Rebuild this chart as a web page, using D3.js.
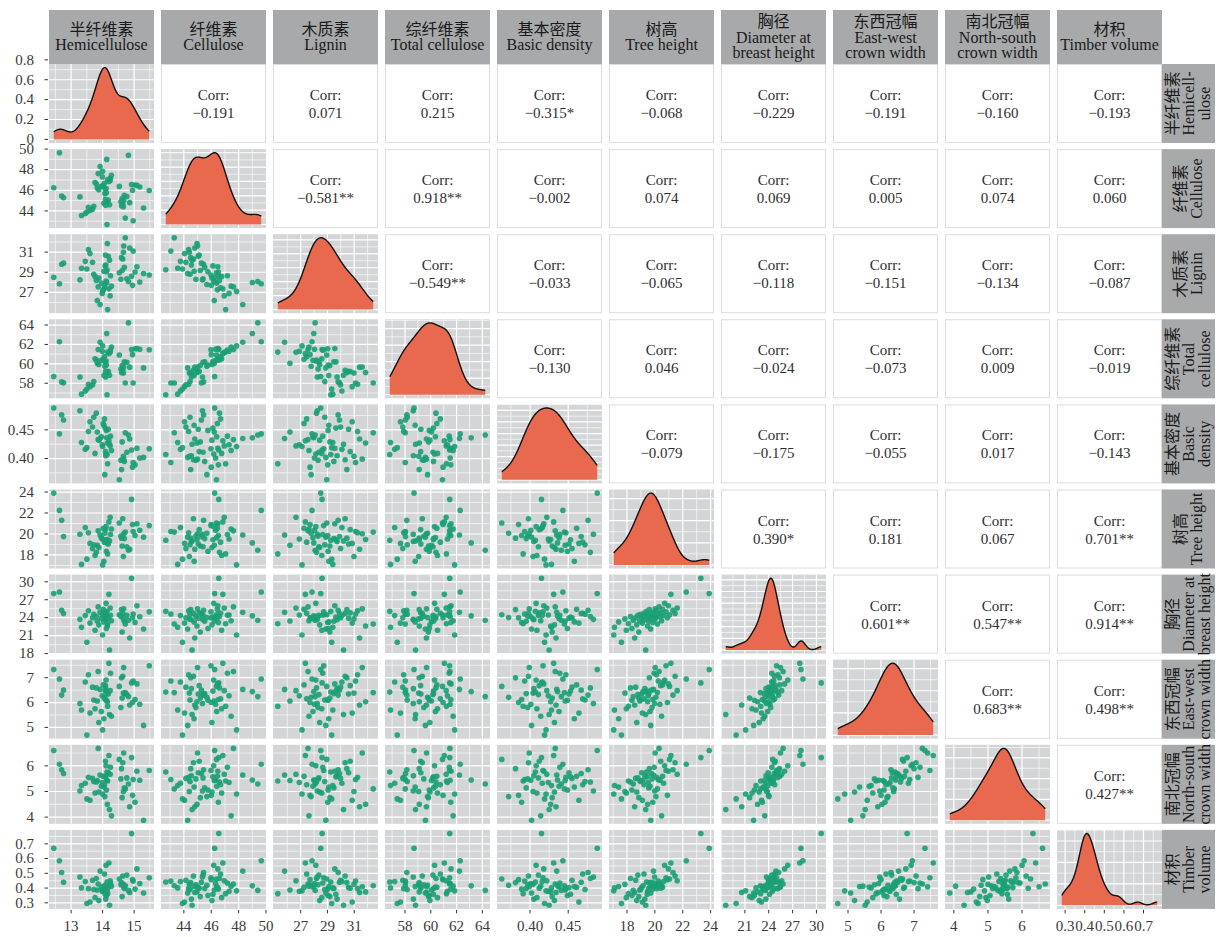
<!DOCTYPE html>
<html>
<head>
<meta charset="utf-8">
<script src="https://cdn.jsdelivr.net/npm/d3@7"></script>
<style>
  body { margin: 0; background: #fff; }
  svg { display: block; }
</style>
</head>
<body>
<svg id="chart" width="1216" height="937"></svg>
<script>
// ---- Measurements for 60 sampled trees (one entry per tree, same order in every array) ----
const hemicellulose = [14.22, 13.50, 14.86, 14.00, 14.62, 13.76, 15.30, 14.12, 13.33, 14.15,
  13.88, 14.72, 14.16, 13.60, 15.03, 14.04, 14.69, 13.83, 14.28, 14.82,
  14.10, 13.28, 14.66, 13.96, 14.18, 14.95, 13.68, 14.07, 14.08, 15.18,
  13.80, 14.58, 14.13, 13.45, 14.77, 14.25, 13.99, 14.53, 13.72, 14.97,
  12.76, 14.64, 14.06, 14.09, 13.92, 15.48, 14.14, 13.55, 12.70, 14.60,
  14.02, 14.67, 14.24, 13.86, 15.09, 14.11, 14.20, 12.45, 12.63, 14.92];
const cellulose = [44.60, 43.90, 44.80, 47.85, 45.20, 46.76, 44.28, 45.76, 43.55, 44.96,
  46.05, 43.30, 47.05, 44.05, 46.52, 44.75, 45.52, 46.22, 47.45, 49.40,
  44.55, 45.36, 44.40, 46.40, 45.05, 46.00, 44.15, 45.68, 46.12, 46.32,
  46.60, 44.88, 49.00, 43.75, 45.40, 47.18, 47.30, 46.38, 44.45, 43.05,
  45.28, 44.70, 46.68, 45.12, 48.30, 45.98, 42.68, 44.35, 45.44, 44.50,
  46.45, 45.00, 46.95, 47.62, 46.48, 46.18, 46.85, 46.25, 49.65, 46.55];
const lignin = [30.20, 29.32, 31.40, 27.10, 29.18, 28.58, 28.88, 29.05, 29.40, 31.85,
  28.42, 32.42, 25.29, 30.85, 29.02, 29.10, 29.48, 26.20, 27.62, 28.08,
  29.72, 28.24, 30.98, 27.92, 30.58, 27.70, 29.98, 27.78, 29.63, 28.03,
  28.18, 28.30, 27.98, 30.08, 28.36, 28.65, 26.90, 28.95, 28.80, 31.10,
  29.90, 30.32, 27.45, 30.70, 25.80, 28.72, 29.25, 31.25, 29.80, 30.45,
  27.25, 31.60, 26.65, 27.55, 29.55, 28.13, 27.35, 28.50, 27.85, 28.60];
const totalCellulose = [58.82, 57.40, 59.66, 61.85, 59.82, 60.52, 59.58, 59.88, 56.88, 59.11,
  59.93, 58.02, 61.21, 57.65, 61.55, 58.79, 60.21, 60.05, 61.73, 64.22,
  58.65, 58.64, 59.06, 60.36, 59.23, 60.95, 57.83, 59.75, 60.20, 61.50,
  60.40, 59.46, 63.13, 57.20, 60.17, 61.43, 61.29, 60.91, 58.17, 58.02,
  58.04, 59.34, 60.74, 59.21, 62.22, 61.46, 56.82, 57.90, 58.14, 59.10,
  60.47, 59.67, 61.19, 61.48, 61.57, 60.29, 61.05, 58.70, 62.28, 61.47];
const basicDensity = [0.425, 0.419, 0.434, 0.421, 0.429, 0.409, 0.402, 0.449, 0.428, 0.427,
  0.432, 0.445, 0.391, 0.464, 0.389, 0.458, 0.395, 0.446, 0.414, 0.441,
  0.405, 0.483, 0.404, 0.438, 0.451, 0.385, 0.455, 0.372, 0.453, 0.401,
  0.479, 0.397, 0.436, 0.416, 0.411, 0.439, 0.424, 0.363, 0.472, 0.393,
  0.467, 0.398, 0.469, 0.412, 0.435, 0.417, 0.407, 0.447, 0.476, 0.381,
  0.461, 0.399, 0.422, 0.433, 0.418, 0.408, 0.431, 0.488, 0.443, 0.415];
const treeHeight = [19.34, 17.60, 18.55, 17.05, 18.85, 17.95, 19.70, 18.35, 17.10, 19.48,
  18.70, 20.18, 18.10, 19.10, 19.85, 17.40, 19.56, 18.92, 20.48, 18.45,
  19.28, 19.98, 17.85, 19.65, 19.05, 20.90, 18.62, 20.07, 19.45, 20.36,
  18.25, 19.80, 19.15, 20.62, 18.78, 19.95, 19.52, 21.05, 18.97, 20.24,
  19.75, 21.45, 19.22, 20.42, 19.90, 20.80, 19.40, 20.12, 21.30, 19.60,
  20.55, 20.02, 21.60, 20.30, 20.97, 20.70, 21.15, 23.90, 22.25, 23.30];
const dbh = [18.60, 19.90, 20.60, 21.10, 21.60, 21.90, 22.10, 22.20, 22.40, 22.60,
  22.80, 22.95, 23.00, 23.10, 23.20, 23.30, 23.40, 23.45, 23.50, 23.58,
  23.65, 23.72, 23.80, 23.86, 23.92, 23.98, 24.00, 24.04, 24.10, 24.15,
  24.20, 24.25, 24.30, 24.35, 24.38, 24.40, 24.45, 24.50, 24.56, 24.62,
  24.68, 24.72, 24.75, 24.82, 24.90, 24.98, 25.06, 25.15, 25.25, 25.35,
  25.40, 25.48, 25.62, 25.80, 26.00, 26.40, 27.90, 28.05, 28.30, 30.60];
const ewCrown = [5.52, 4.69, 5.90, 4.90, 6.18, 5.75, 5.08, 6.09, 5.70, 6.03,
  5.20, 6.40, 5.85, 5.58, 6.12, 5.35, 6.36, 6.06, 5.45, 6.24,
  6.56, 5.96, 6.38, 5.64, 6.34, 6.00, 6.62, 6.21, 6.46, 5.93,
  6.59, 5.80, 6.44, 6.83, 6.32, 7.18, 6.27, 6.65, 6.10, 6.87,
  6.50, 7.06, 6.15, 6.68, 6.53, 7.48, 6.42, 7.12, 6.30, 7.00,
  6.71, 7.41, 6.48, 7.25, 6.75, 6.91, 7.58, 7.33, 6.95, 6.79];
const nsCrown = [4.30, 4.71, 4.40, 4.90, 4.76, 4.94, 3.88, 5.06, 5.23, 4.50,
  4.98, 5.10, 5.41, 4.66, 4.58, 5.17, 5.14, 5.43, 4.05, 5.29,
  5.61, 5.02, 5.00, 5.20, 5.73, 4.85, 5.51, 4.80, 5.57, 5.44,
  5.37, 5.49, 5.45, 5.32, 5.53, 5.94, 5.35, 6.25, 5.39, 5.47,
  5.70, 6.12, 5.26, 6.18, 5.64, 5.82, 5.76, 5.55, 5.85, 5.89,
  5.59, 6.50, 5.67, 6.68, 5.79, 6.00, 6.40, 6.60, 6.06, 6.32];
const timberVolume = [0.283, 0.295, 0.370, 0.381, 0.342, 0.335, 0.366, 0.350, 0.401, 0.374,
  0.315, 0.416, 0.362, 0.305, 0.393, 0.411, 0.397, 0.387, 0.413, 0.384,
  0.325, 0.475, 0.425, 0.407, 0.403, 0.457, 0.453, 0.419, 0.358, 0.431,
  0.465, 0.422, 0.415, 0.444, 0.488, 0.434, 0.378, 0.461, 0.390, 0.447,
  0.439, 0.482, 0.495, 0.399, 0.515, 0.470, 0.441, 0.396, 0.505, 0.437,
  0.405, 0.409, 0.450, 0.428, 0.530, 0.555, 0.570, 0.670, 0.585, 0.770];

// ---- Strip labels ----
const columnStripLabels = [
  ["半纤维素", "Hemicellulose"], ["纤维素", "Cellulose"], ["木质素", "Lignin"],
  ["综纤维素", "Total cellulose"], ["基本密度", "Basic density"], ["树高", "Tree height"],
  ["胸径", "Diameter at", "breast height"], ["东西冠幅", "East-west", "crown width"],
  ["南北冠幅", "North-south", "crown width"], ["材积", "Timber volume"]];
const rowStripLabels = [
  ["半纤维素", "Hemicell-", "ulose"], ["纤维素", "Cellulose"], ["木质素", "Lignin"],
  ["综纤维素", "Total", "cellulose"], ["基本密度", "Basic", "density"], ["树高", "Tree height"],
  ["胸径", "Diameter at", "breast height"], ["东西冠幅", "East-west", "crown width"],
  ["南北冠幅", "North-south", "crown width"], ["材积", "Timber", "volume"]];

// ---- Pearson correlations (upper triangle, row by row) and significance marks ----
const corrValues = [
  [-0.191, 0.071, 0.215, -0.315, -0.068, -0.229, -0.191, -0.160, -0.193],
  [-0.581, 0.918, -0.002, 0.074, 0.069, 0.005, 0.074, 0.060],
  [-0.549, -0.033, -0.065, -0.118, -0.151, -0.134, -0.087],
  [-0.130, 0.046, -0.024, -0.073, 0.009, -0.019],
  [-0.079, -0.175, -0.055, 0.017, -0.143],
  [0.390, 0.181, 0.067, 0.701],
  [0.601, 0.547, 0.914],
  [0.683, 0.498],
  [0.427]];
const corrStars = [
  ["", "", "", "*", "", "", "", "", ""],
  ["**", "**", "", "", "", "", "", ""],
  ["**", "", "", "", "", "", ""],
  ["", "", "", "", "", ""],
  ["", "", "", "", ""],
  ["*", "", "", "**"],
  ["**", "**", "**"],
  ["**", "**"],
  ["**"]];

// ---- Axis breaks and tick labels ----
const gridBreaks = [[13, 14, 15], [44, 46, 48, 50], [27, 29, 31], [58, 60, 62, 64], [0.40, 0.45],
  [18, 20, 22, 24], [18, 21, 24, 27, 30], [5, 6, 7], [4, 5, 6], [0.3, 0.4, 0.5, 0.6, 0.7]];
const xTickValues = [[13, 14, 15], [44, 46, 48, 50], [27, 29, 31], [58, 60, 62, 64], [0.40, 0.45],
  [18, 20, 22, 24], [21, 24, 27, 30], [5, 6, 7], [4, 5, 6], [0.3, 0.4, 0.5, 0.6, 0.7]];
const xTickLabels = [["13", "14", "15"], ["44", "46", "48", "50"], ["27", "29", "31"], ["58", "60", "62", "64"],
  ["0.40", "0.45"], ["18", "20", "22", "24"], ["21", "24", "27", "30"], ["5", "6", "7"], ["4", "5", "6"],
  ["0.3", "0.4", "0.5", "0.6", "0.7"]];
const yTickValues = [[0, 0.2, 0.4, 0.6, 0.8], [44, 46, 48, 50], [27, 29, 31], [58, 60, 62, 64], [0.40, 0.45],
  [18, 20, 22, 24], [18, 21, 24, 27, 30], [5, 6, 7], [4, 5, 6], [0.3, 0.4, 0.5, 0.6, 0.7]];
const yTickLabels = [["0", "0.2", "0.4", "0.6", "0.8"], ["44", "46", "48", "50"], ["27", "29", "31"],
  ["58", "60", "62", "64"], ["0.40", "0.45"], ["18", "20", "22", "24"], ["18", "21", "24", "27", "30"],
  ["5", "6", "7"], ["4", "5", "6"], ["0.3", "0.4", "0.5", "0.6", "0.7"]];

// ---- Layout ----
const gridLeft = 49, gridTop = 64;
const panelW = 105, panelH = 79, colStep = 112, rowStep = 85.1;
const stripTop = 10, stripH = 54, stripW = 53;
const serif = "'Liberation Serif', 'Times New Roman', 'Noto Sans CJK SC', serif";
const panelFill = "#d4d5d7", stripFill = "#a7a9ab";
const pointColor = "#1b9e77", densityFill = "#e8694e";

const svg = d3.select("#chart");
svg.append("rect").attr("width", 1216).attr("height", 937).attr("fill", "#fff");

const series = [hemicellulose, cellulose, lignin, totalCellulose, basicDensity,
  treeHeight, dbh, ewCrown, nsCrown, timberVolume];
const N = series.length;

const colX = k => gridLeft + k * colStep;
const rowY = k => gridTop + k * rowStep;

function expanded(values) {
  const [a, b] = d3.extent(values);
  const e = (b - a) * 0.05;
  return [a - e, b + e];
}
const xScales = series.map((v, k) => d3.scaleLinear().domain(expanded(v)).range([colX(k), colX(k) + panelW]));
const yScales = series.map((v, k) => d3.scaleLinear().domain(expanded(v)).range([rowY(k) + panelH, rowY(k)]));

// Gaussian kernel density with the nrd0 rule-of-thumb bandwidth
function kde(values) {
  const sd = d3.deviation(values);
  const iqr = d3.quantile(values, 0.75) - d3.quantile(values, 0.25);
  const bw = 0.9 * Math.min(sd, iqr / 1.34) * Math.pow(values.length, -0.2);
  const [a, b] = d3.extent(values);
  const c = 1 / (bw * Math.sqrt(2 * Math.PI));
  return d3.range(512).map(k => {
    const x = a + (b - a) * k / 511;
    return [x, c * d3.mean(values, v => Math.exp(-0.5 * ((x - v) / bw) ** 2))];
  });
}
const densities = series.map(kde);
const densityScales = densities.map((d, k) => {
  const m = d3.max(d, p => p[1]);
  return d3.scaleLinear().domain([-0.05 * m, 1.05 * m]).range([rowY(k) + panelH, rowY(k)]);
});

function minorBreaks(majors, dom) {
  const step = majors[1] - majors[0];
  const out = [majors[0] - step / 2, ...majors.map(m => m + step / 2)];
  return out.filter(v => v > dom[0] && v < dom[1]);
}
function inside(list, dom) {
  return list.filter(v => v >= dom[0] - 1e-9 && v <= dom[1] + 1e-9);
}

function drawGrid(g, sx, sy, xMajors, yMajors) {
  const [x0, x1] = sx.range(), [y1, y0] = sy.range();
  const xd = sx.domain(), yd = sy.domain();
  const lines = [];
  minorBreaks(xMajors, xd).forEach(v => lines.push({ v: sx(v), dir: "v", w: 0.6 }));
  minorBreaks(yMajors, yd).forEach(v => lines.push({ v: sy(v), dir: "h", w: 0.6 }));
  inside(xMajors, xd).forEach(v => lines.push({ v: sx(v), dir: "v", w: 1.2 }));
  inside(yMajors, yd).forEach(v => lines.push({ v: sy(v), dir: "h", w: 1.2 }));
  g.selectAll(null).data(lines).join("line")
    .attr("x1", d => d.dir === "v" ? d.v : x0)
    .attr("x2", d => d.dir === "v" ? d.v : x1)
    .attr("y1", d => d.dir === "v" ? y0 : d.v)
    .attr("y2", d => d.dir === "v" ? y1 : d.v)
    .attr("stroke", "#fff")
    .attr("stroke-width", d => d.w);
}

const fmtCorr = v => (v < 0 ? "\u2212" : "") + Math.abs(v).toFixed(3);

for (let r = 0; r < N; r++) {
  for (let c = 0; c < N; c++) {
    const g = svg.append("g");
    const x0 = colX(c), y0 = rowY(r);
    if (r < c) {
      // correlation panel
      g.append("rect").attr("x", x0 + 0.5).attr("y", y0 + 0.5)
        .attr("width", panelW - 1).attr("height", panelH - 1)
        .attr("fill", "#fff").attr("stroke", "#dcdcdc").attr("stroke-width", 1);
      const cx = x0 + panelW / 2, cy = y0 + panelH / 2;
      const t = g.append("text").attr("text-anchor", "middle")
        .attr("font-family", serif).attr("font-size", 15).attr("fill", "#2e2e2e");
      t.append("tspan").attr("x", cx).attr("y", cy - 3.5).text("Corr:");
      t.append("tspan").attr("x", cx).attr("y", cy + 14.5)
        .text(fmtCorr(corrValues[r][c - r - 1]) + corrStars[r][c - r - 1]);
      continue;
    }
    g.append("rect").attr("x", x0).attr("y", y0).attr("width", panelW).attr("height", panelH)
      .attr("fill", panelFill);
    const sx = xScales[c];
    if (r === c) {
      // density panel
      const sy = densityScales[r];
      const yMajors = r === 0 ? yTickValues[0] : sy.ticks(5);
      drawGrid(g, sx, sy, gridBreaks[c], yMajors);
      g.append("path").datum(densities[r])
        .attr("d", d3.area().x(d => sx(d[0])).y0(sy(0)).y1(d => sy(d[1])))
        .attr("fill", densityFill);
      g.append("path").datum(densities[r])
        .attr("d", d3.line().x(d => sx(d[0])).y(d => sy(d[1])))
        .attr("fill", "none").attr("stroke", "#111").attr("stroke-width", 1.4);
    } else {
      // scatter panel
      const sy = yScales[r];
      drawGrid(g, sx, sy, gridBreaks[c], gridBreaks[r]);
      g.selectAll("circle").data(d3.range(series[0].length)).join("circle")
        .attr("cx", i => sx(series[c][i]))
        .attr("cy", i => sy(series[r][i]))
        .attr("r", 2.8)
        .attr("fill", pointColor)
        .attr("fill-opacity", 0.9);
    }
  }
}

// ---- Left axis ----
const leftAxis = svg.append("g").attr("font-family", serif).attr("font-size", 15).attr("fill", "#3a3a3a");
for (let r = 0; r < N; r++) {
  const sy = r === 0 ? densityScales[0] : yScales[r];
  yTickValues[r].forEach((v, k) => {
    const y = sy(v);
    leftAxis.append("line").attr("x1", gridLeft - 4.5).attr("x2", gridLeft - 1)
      .attr("y1", y).attr("y2", y).attr("stroke", "#333").attr("stroke-width", 1);
    leftAxis.append("text").attr("x", gridLeft - 15).attr("y", y).attr("dy", "0.32em")
      .attr("text-anchor", "end").text(yTickLabels[r][k]);
  });
}

// ---- Bottom axis ----
const bottomY = rowY(N - 1) + panelH;
const bottomAxis = svg.append("g").attr("font-family", serif).attr("font-size", 15).attr("fill", "#3a3a3a");
for (let c = 0; c < N; c++) {
  xTickValues[c].forEach((v, k) => {
    const x = xScales[c](v);
    bottomAxis.append("line").attr("x1", x).attr("x2", x)
      .attr("y1", bottomY + 1).attr("y2", bottomY + 4.5).attr("stroke", "#333").attr("stroke-width", 1);
    bottomAxis.append("text").attr("x", x).attr("y", bottomY + 22)
      .attr("text-anchor", "middle").text(xTickLabels[c][k]);
  });
}

// ---- Column strips (top) ----
const lineGap = 15.7;
columnStripLabels.forEach((lines, c) => {
  const x0 = colX(c);
  svg.append("rect").attr("x", x0).attr("y", stripTop).attr("width", panelW).attr("height", stripH)
    .attr("fill", stripFill);
  const cy = stripTop + stripH / 2;
  const t = svg.append("text").attr("text-anchor", "middle").attr("font-family", serif)
    .attr("font-size", 16).attr("fill", "#1a1a1a");
  lines.forEach((s, k) => {
    t.append("tspan").attr("x", x0 + panelW / 2)
      .attr("y", cy + (k - (lines.length - 1) / 2) * lineGap)
      .attr("dominant-baseline", "central").text(s);
  });
});

// ---- Row strips (right) ----
const stripX = colX(N - 1) + panelW;
rowStripLabels.forEach((lines, r) => {
  const y0 = rowY(r);
  svg.append("rect").attr("x", stripX).attr("y", y0).attr("width", stripW).attr("height", panelH)
    .attr("fill", stripFill);
  const g = svg.append("g")
    .attr("transform", `translate(${stripX + stripW / 2},${y0 + panelH / 2}) rotate(-90)`);
  const t = g.append("text").attr("text-anchor", "middle").attr("font-family", serif)
    .attr("font-size", 16).attr("fill", "#1a1a1a");
  lines.forEach((s, k) => {
    t.append("tspan").attr("x", 0)
      .attr("y", (k - (lines.length - 1) / 2) * lineGap)
      .attr("dominant-baseline", "central").text(s);
  });
});
</script>
</body>
</html>
